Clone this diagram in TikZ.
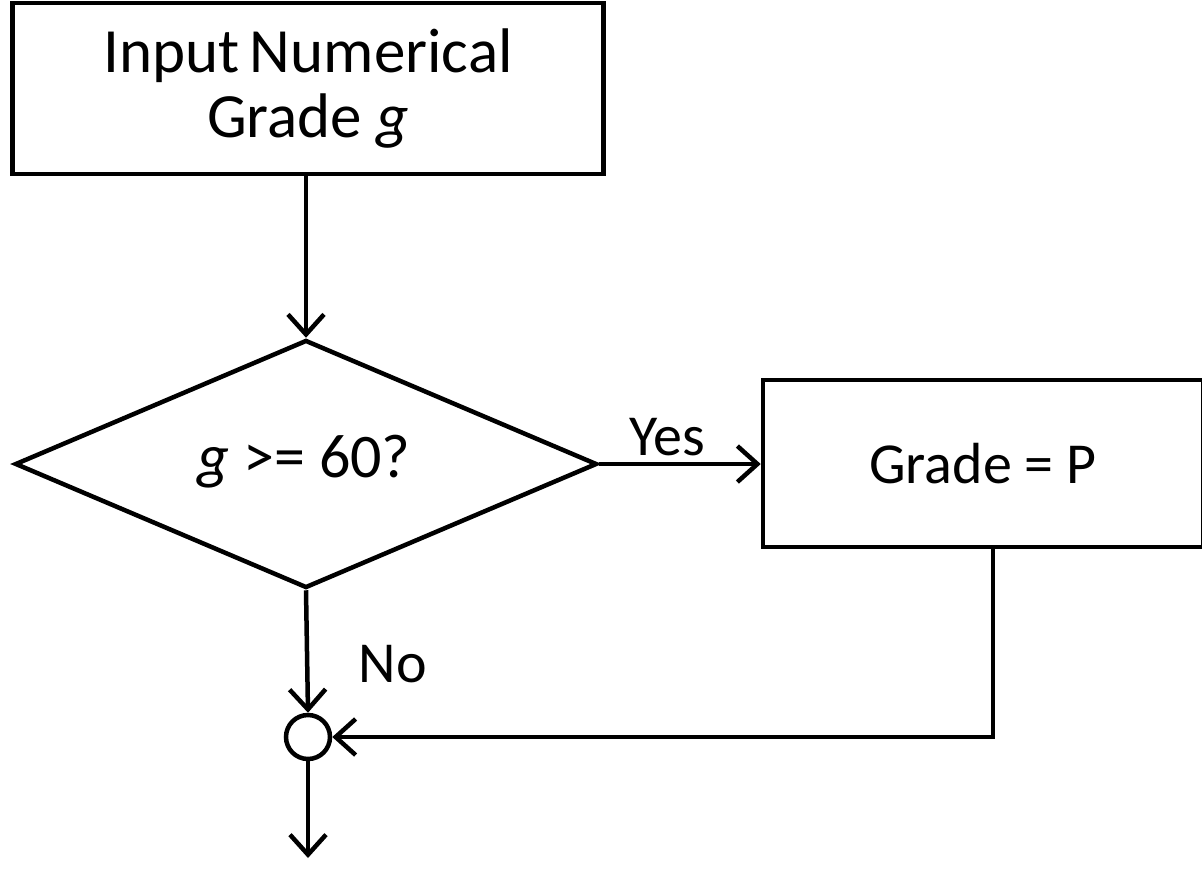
\documentclass[tikz,border=0pt]{standalone}
\usepackage{fontspec}
\setmainfont{Carlito}
\usetikzlibrary{shapes.geometric,arrows.meta}
\begin{document}
\begin{tikzpicture}[x=1pt,y=-1pt,
  every node/.style={font=\fontsize{58}{72}\selectfont},
  box/.style={draw,line width=4.5pt,rectangle,inner sep=0pt},
  dec/.style={draw,line width=4.5pt,diamond,aspect=2.35,inner sep=0pt,minimum width=582pt,minimum height=248pt},
  conn/.style={line width=4.5pt,-{Straight Barb[length=20pt,width=36pt,line width=4.5pt]}},
  lbl/.style={inner sep=0pt}]
\clip (0,0) rectangle (1202,876);
\node[box,minimum width=591pt,minimum height=171pt,align=center,
  font=\fontsize{63}{65}\selectfont] (in) at (308,88.5)
  {Input\,Numerical\\Grade \textit{g}};
\node[dec] (dec) at (306,464) {};
\node[lbl,font=\fontsize{62}{72}\selectfont] (dtext) at (304,462) {\textit{g} >= 60?};
\node[box,minimum width=440pt,minimum height=167pt] (p) at (983,463.5) {Grade = P};
\node[draw,circle,line width=4.5pt,minimum size=44pt,inner sep=0pt] (c) at (308,737) {};
\coordinate (end) at (308,858);
\draw[conn] (in.south -| dec.north) -- (dec.north);
\draw[conn] (dec.east) -- (p.west |- dec.east);
\draw[conn] (dec.south) -- (c.north);
\draw[conn] (p.south) ++(10,0) |- (c.east);
\draw[conn] (c.south) -- (end);
\node[lbl] (yes) at (667,437) {Yes};
\node[lbl] (no) at (393,664) {No};
\end{tikzpicture}
\end{document}
